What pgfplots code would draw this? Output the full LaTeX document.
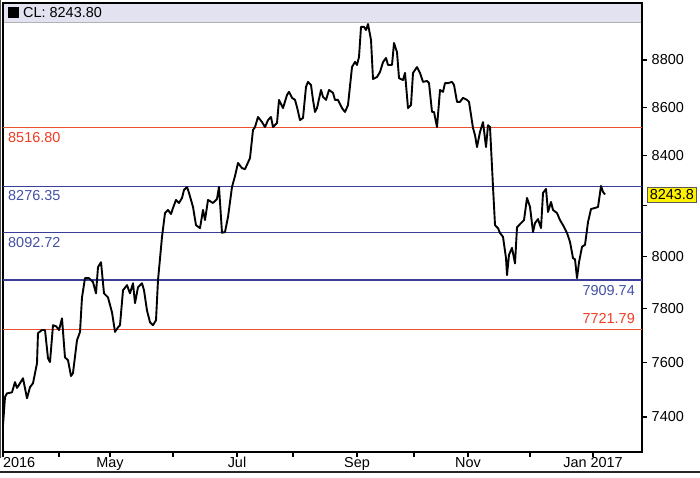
\documentclass[border=0pt]{standalone}
\usepackage{pgfplots}
\usepackage{pgfplotstable}
\pgfplotsset{compat=1.18}
\usepackage{fontspec}
\setmainfont{Liberation Sans}
\definecolor{fibred}{HTML}{F0502E}
\definecolor{fibblue}{HTML}{3A3E9A}
\definecolor{lblblue}{HTML}{4452A6}
\definecolor{lblred}{HTML}{F03C22}
\definecolor{barbg}{HTML}{E2E2F0}
\newcommand\cf{\fontsize{14.5}{17}\selectfont}
\newcommand\lt[1]{\makebox[0pt][l]{#1}}

\pgfplotstableread{
x y
0 7371
2 7472
4 7486
9 7490
12 7527
14 7505
17 7523
20 7541
24 7468
27 7508
30 7523
34 7596
35 7708
39 7719
42 7719
45 7614
47 7600
50 7738
53 7734
56 7719
59 7764
62 7618
65 7607
68 7549
70 7560
74 7682
77 7712
79 7843
82 7917
86 7917
90 7901
93 7859
95 7959
98 7978
101 7859
105 7843
109 7787
112 7712
115 7730
117 7738
120 7870
124 7890
127 7859
130 7897
132 7821
135 7882
139 7897
141 7870
144 7794
147 7749
150 7738
153 7757
155 7909
159 8076
162 8170
165 8182
168 8166
170 8190
173 8222
176 8210
179 8230
181 8262
184 8274
186 8250
190 8194
193 8122
197 8110
200 8182
202 8142
205 8222
210 8210
214 8226
216 8274
219 8092
222 8095
225 8154
229 8274
232 8318
235 8371
239 8350
242 8346
247 8391
250 8506
252 8518
255 8560
259 8539
262 8518
265 8547
268 8560
270 8518
274 8535
276 8631
280 8597
284 8652
286 8665
289 8640
292 8631
294 8601
297 8547
300 8556
303 8686
305 8707
308 8694
310 8631
312 8581
314 8597
318 8673
320 8644
323 8631
326 8673
330 8661
332 8631
335 8631
339 8597
342 8581
345 8610
349 8770
352 8792
354 8779
356 8813
358 8943
361 8943
363 8929
365 8955
368 8886
370 8719
374 8728
377 8749
380 8791
383 8809
385 8779
389 8779
391 8873
394 8834
396 8723
400 8715
402 8745
405 8597
408 8610
410 8745
414 8770
417 8745
420 8707
424 8711
426 8702
429 8581
431 8581
434 8518
437 8673
440 8665
442 8702
445 8702
449 8707
451 8694
454 8623
457 8623
460 8640
464 8631
466 8623
470 8514
472 8485
474 8436
477 8498
480 8539
483 8436
485 8526
487 8518
490 8274
492 8122
495 8110
497 8091
500 8076
503 7994
504 7928
506 8006
509 8033
512 7974
514 8114
518 8130
521 8142
524 8230
527 8194
530 8095
532 8130
535 8146
538 8110
540 8250
543 8266
545 8174
548 8214
550 8182
554 8170
557 8142
560 8122
564 8091
567 8056
570 7994
572 7990
574 7917
576 7978
579 8037
582 8045
585 8134
588 8186
592 8190
595 8194
598 8278
600 8254
602 8243.8
}\cldata

\begin{document}
\begin{tikzpicture}[x=1bp,y=1bp]
\fill[white] (0,0) rectangle (700,478);
% title bar background
\fill[barbg] (3,475) rectangle (642,456);
\draw[black!30, line width=0.6bp] (3,456) -- (642,456);
\begin{axis}[
  at={(3bp,26bp)}, anchor=south west,
  scale only axis, width=639bp, height=449bp,
  xmin=0, xmax=639,
  y coord trafo/.code={\pgfmathparse{1000*ln(#1)}},
  ymin=7275, ymax=9047,
  clip=false,
  axis line style={line width=1.6bp, black},
  ytick={7400,7600,7800,8000,8200,8400,8600,8800},
  yticklabels={\lt{7400},\lt{7600},\lt{7800},\lt{8000},,\lt{8400},\lt{8600},\lt{8800}},
  ytick pos=right, yticklabel pos=right,
  xtick={0,56,107,170,234,290,354,411,465,527,590},
  xticklabels={\lt{2016},,May,,Jul,,Sep,,Nov,,Jan 2017},
  xtick pos=bottom,
  tick align=outside,
  major tick length=5bp,
  tick style={line width=1.3bp, black},
  tick label style={font=\cf, inner sep=0pt},
  yticklabel shift=4bp,
  xticklabel shift=0bp,
  yticklabel style={anchor=west},
  xticklabel style={anchor=north},
]
\addplot[fibred, line width=1.3bp] coordinates {(0,8516.8) (639,8516.8)};
\addplot[fibblue, line width=1.4bp] coordinates {(0,8276.35) (639,8276.35)};
\addplot[fibblue, line width=1.4bp] coordinates {(0,8092.72) (639,8092.72)};
\addplot[fibblue, line width=1.4bp] coordinates {(0,7909.74) (639,7909.74)};
\addplot[fibred, line width=1.3bp] coordinates {(0,7721.79) (639,7721.79)};
\addplot[black, line width=1.9bp, line join=round] table[x=x,y=y] {\cldata};
\node[anchor=west, font=\cf, text=lblred, inner sep=0pt] at (axis cs:5,8477) {8516.80};
\node[anchor=west, font=\cf, text=lblblue, inner sep=0pt] at (axis cs:5,8238) {8276.35};
\node[anchor=west, font=\cf, text=lblblue, inner sep=0pt] at (axis cs:5,8056) {8092.72};
\node[anchor=east, font=\cf, text=lblblue, inner sep=0pt] at (axis cs:632,7870) {7909.74};
\node[anchor=east, font=\cf, text=lblred, inner sep=0pt] at (axis cs:632,7764) {7721.79};
\node[anchor=west, font=\cf, fill=yellow, draw=gray!70!black, line width=0.6bp,
      inner xsep=2.5bp, inner ysep=2.5bp, xshift=5bp] at (axis cs:639,8243.8) {8243.8};
\end{axis}
% title
\fill[black] (8,471) rectangle (19,460);
\node[anchor=west, font=\cf, inner sep=0pt] at (23,465.5) {CL: 8243.80};
% outer lines
\draw[gray!60!black, line width=1bp] (0.5,478) -- (0.5,20);
\draw[black!85, line width=2bp] (0,6) -- (700,6);
\pgfresetboundingbox
\path[use as bounding box] (0,0) rectangle (700,478);
\end{tikzpicture}
\end{document}
